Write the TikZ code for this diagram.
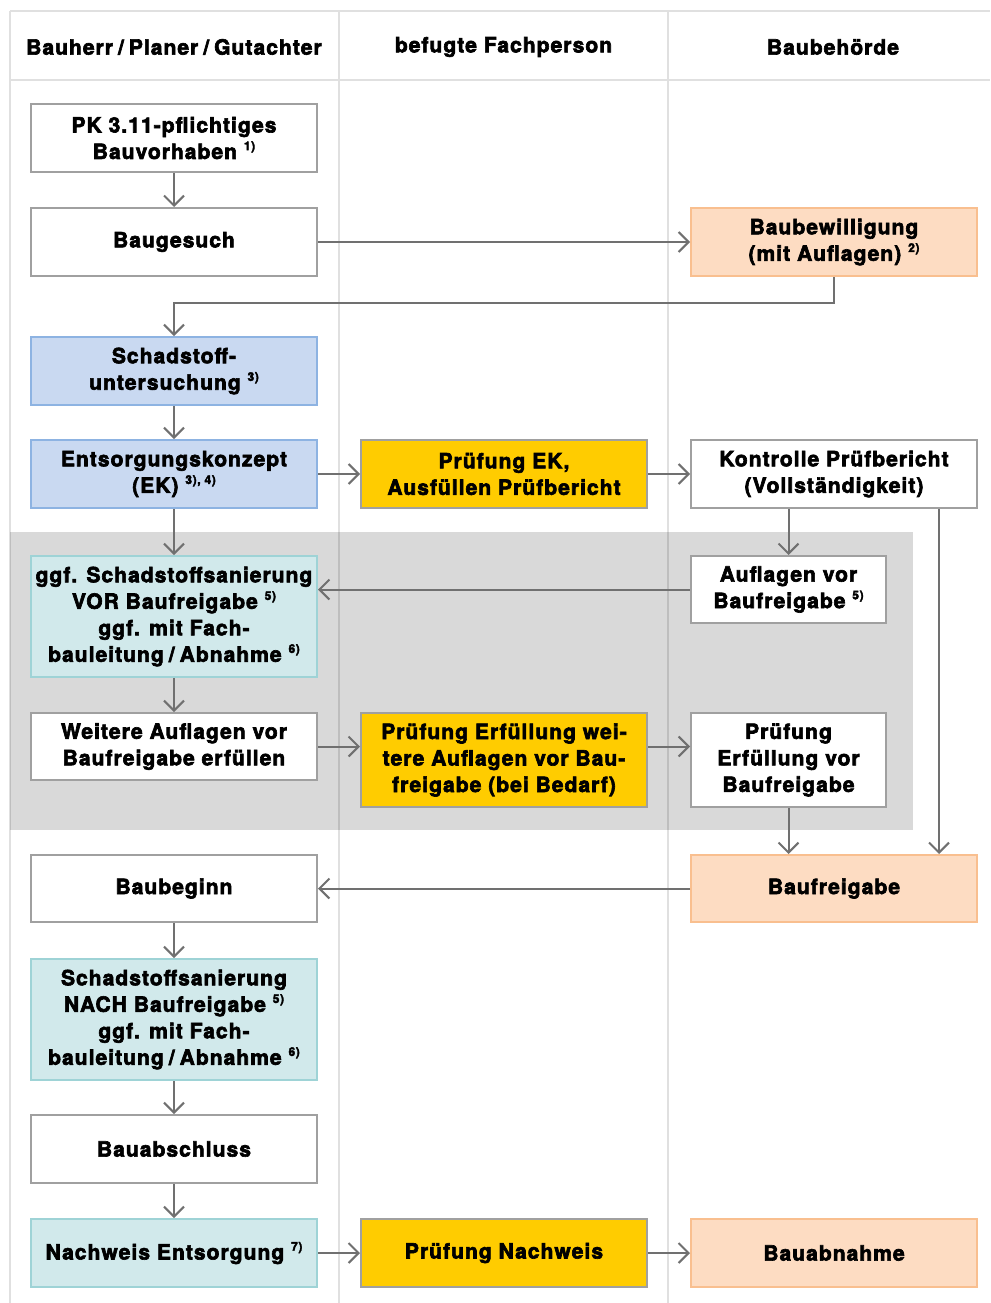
\documentclass[tikz,border=0pt]{standalone}
\usepackage{fontspec}
\setmainfont{TeX Gyre Heros}[BoldFeatures={FakeBold=3,LetterSpace=5}]
\usetikzlibrary{arrows.meta}
\definecolor{gridc}{HTML}{E0E0E0}
\definecolor{boxgray}{HTML}{A0A0A0}
\definecolor{arrgray}{HTML}{707070}
\definecolor{peachf}{HTML}{FDDCC2}
\definecolor{peachd}{HTML}{F9BF8F}
\definecolor{bluef}{HTML}{C9D9F1}
\definecolor{blued}{HTML}{8DB3E2}
\definecolor{tealf}{HTML}{D1E9EB}
\definecolor{teald}{HTML}{9ED3D6}
\definecolor{yellowf}{HTML}{FFCC00}
\newcommand{\fnote}[1]{\ \raisebox{0.42em}{\fontsize{12}{12}\selectfont #1}}
\newcommand{\slsep}{\hspace{5pt}/\hspace{5pt}}
\begin{document}
\begin{tikzpicture}[x=1pt,y=-1pt,
  box/.style={draw=boxgray, fill=white, line width=2pt, minimum width=286pt, minimum height=68pt,
    align=center, inner sep=2pt, font=\fontsize{21}{26.5}\selectfont\bfseries},
  peach/.style={box, fill=peachf, draw=peachd},
  blue/.style={box, fill=bluef, draw=blued},
  teal/.style={box, fill=tealf, draw=teald},
  yellow/.style={box, fill=yellowf, draw=boxgray},
  hdr/.style={font=\fontsize{21}{24}\selectfont\bfseries, inner sep=0pt},
  arr/.style={draw=arrgray, line width=2pt, -{Straight Barb[length=10pt,width=20pt]}},
  gridl/.style={draw=gridc, line width=2.5pt}]
\useasboundingbox (0,0) rectangle (990,1303);
\fill[white] (0,0) rectangle (990,1303);
% grid
\draw[gridl] (10,11) -- (990,11);
\draw[gridl] (10,80) -- (990,80);
\draw[gridl] (10,11) -- (10,1303);
\draw[gridl] (339,11) -- (339,1303);
\draw[gridl] (668,11) -- (668,1303);
% band
\fill[black, fill opacity=0.15] (10,532) rectangle (913,830);
% headers
\node[hdr] (h1) at (174,47) {Bauherr\slsep Planer\slsep Gutachter};
\node[hdr] (h2) at (503.5,47) {befugte Fachperson};
\node[hdr] (h3) at (833,47) {Baubehörde};
% boxes
\node[box] (pk) at (174,138) {PK 3.11-pflichtiges\\Bauvorhaben\fnote{1)}};
\node[box] (bg) at (174,242) {Baugesuch};
\node[peach] (bb) at (834,242) {Baubewilligung\\(mit Auflagen)\fnote{2)}};
\node[blue] (su) at (174,371) {Schadstoff-\\untersuchung\fnote{3)}};
\node[blue] (ek) at (174,474) {Entsorgungskonzept\\(EK)\fnote{3), 4)}};
\node[yellow] (pek) at (504,474) {Prüfung EK,\\Ausfüllen Prüfbericht};
\node[box] (kp) at (834,474) {Kontrolle Prüfbericht\\(Vollständigkeit)};
\node[teal, minimum height=121pt] (san) at (174,616.5) {ggf. Schadstoffsanierung\\VOR Baufreigabe\fnote{5)}\\ggf. mit Fach-\\bauleitung\slsep Abnahme\fnote{6)}};
\node[box, minimum width=195pt, minimum height=67pt] (av) at (788.5,589.5) {Auflagen vor\\Baufreigabe\fnote{5)}};
\node[box, minimum height=67pt] (wa) at (174,746.5) {Weitere Auflagen vor\\Baufreigabe erfüllen};
\node[yellow, minimum height=94pt] (pew) at (504,760) {Prüfung Erfüllung wei-\\tere Auflagen vor Bau-\\freigabe (bei Bedarf)};
\node[box, minimum width=195pt, minimum height=94pt] (pev) at (788.5,760) {Prüfung\\Erfüllung vor\\Baufreigabe};
\node[box, minimum height=67pt] (beg) at (174,888.5) {Baubeginn};
\node[peach, minimum height=67pt] (bf) at (834,888.5) {Baufreigabe};
\node[teal, minimum height=121pt] (nach) at (174,1019.5) {Schadstoffsanierung\\NACH Baufreigabe\fnote{5)}\\ggf. mit Fach-\\bauleitung\slsep Abnahme\fnote{6)}};
\node[box] (ba) at (174,1149) {Bauabschluss};
\node[teal] (nw) at (174,1253) {Nachweis Entsorgung\fnote{7)}};
\node[yellow] (pn) at (504,1253) {Prüfung Nachweis};
\node[peach] (bab) at (834,1253) {Bauabnahme};
% connectors
\draw[arr] (pk) -- (bg);
\draw[arr] (bg) -- (bb);
\coordinate (k1) at (834,303);
\draw[arr] (bb.south) -- (k1) -| (su.north);
\draw[arr] (su) -- (ek);
\draw[arr] (ek) -- (pek);
\draw[arr] (pek) -- (kp);
\draw[arr] (ek) -- (san);
\draw[arr] (av.north |- kp.south) -- (av.north);
\draw[arr] (av.west) -- (av.west -| san.east);
\draw[arr] (san) -- (wa);
\draw[arr] (wa) -- (wa -| pew.west);
\draw[arr] (wa -| pew.east) -- (wa -| pev.west);
\draw[arr] (pev) -- (pev |- bf.north);
\draw[arr] ([xshift=-39pt]kp.south east) -- ([xshift=-39pt]bf.north east);
\draw[arr] (bf) -- (beg);
\draw[arr] (beg) -- (nach);
\draw[arr] (nach) -- (ba);
\draw[arr] (ba) -- (nw);
\draw[arr] (nw) -- (pn);
\draw[arr] (pn) -- (bab);
\end{tikzpicture}
\end{document}
